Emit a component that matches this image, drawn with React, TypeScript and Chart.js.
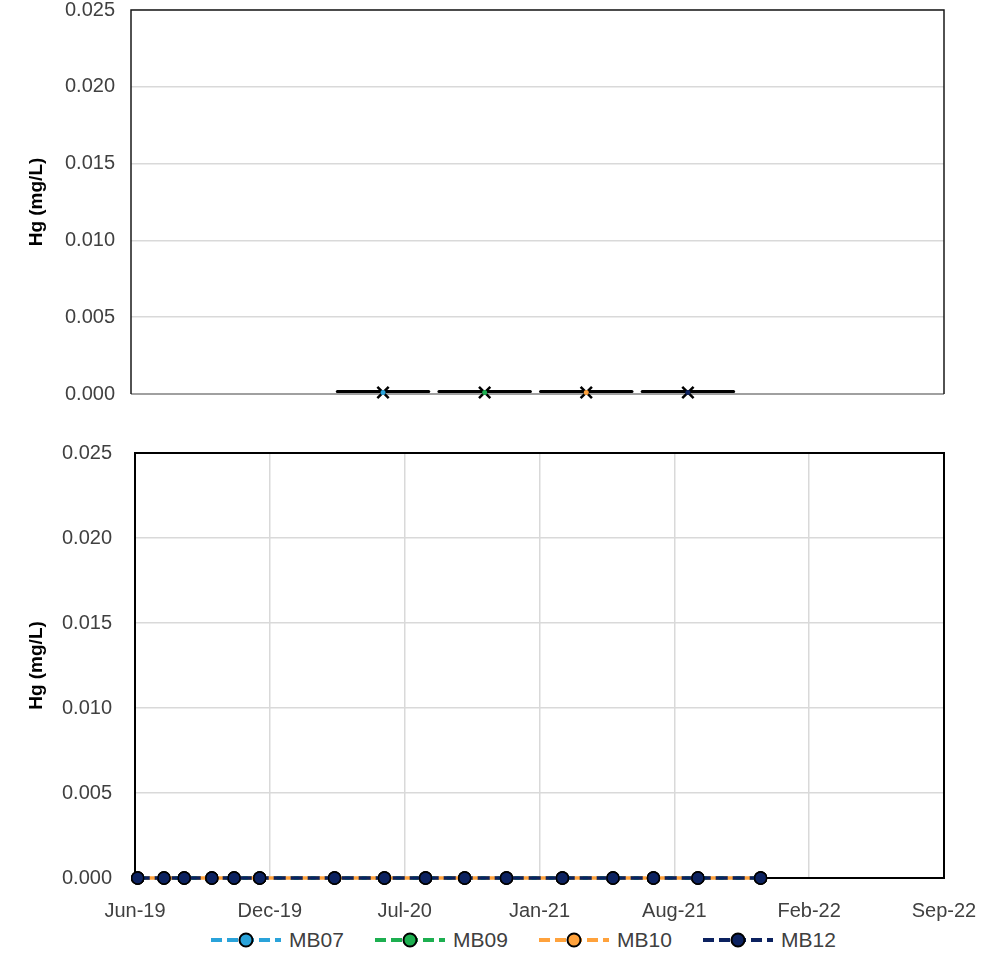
import React, { useEffect, useRef } from 'react';
import { Chart, registerables } from 'chart.js';

Chart.register(...registerables);

// ---------- data ----------
const seriesNames = ['MB07', 'MB09', 'MB10', 'MB12'];
const seriesColors = ['#2AA3DA', '#1DAF50', '#FFA23C', '#0C2260'];

// box plot summary per well (mg/L)
const boxMin = [0.0001, 0.0001, 0.0001, 0.0001];
const boxQ1 = [0.0001, 0.0001, 0.0001, 0.0001];
const boxMedian = [0.0001, 0.0001, 0.0001, 0.0001];
const boxQ3 = [0.0001, 0.0001, 0.0001, 0.0001];
const boxMax = [0.0001, 0.0001, 0.0001, 0.0001];
const boxMean = [0.0001, 0.0001, 0.0001, 0.0001];
const boxSlots = [2, 3, 4, 5]; // category slot of each box (0-based, of 8 slots)

// time series
const sampleDates = [
  '2019-06-05', '2019-07-14', '2019-08-13', '2019-09-23', '2019-10-26', '2019-12-03',
  '2020-03-23', '2020-06-05', '2020-08-05', '2020-10-02', '2020-12-03',
  '2021-02-24', '2021-05-10', '2021-07-09', '2021-09-13', '2021-12-15',
];
const mb07Values = [0, 0, 0, 0, 0, 0, 0, 0, 0, 0, 0, 0, 0, 0, 0, 0];
const mb09Values = [0, 0, 0, 0, 0, 0, 0, 0, 0, 0, 0, 0, 0, 0, 0, 0];
const mb10Values = [0, 0, 0, 0, 0, 0, 0, 0, 0, 0, 0, 0, 0, 0, 0, 0];
const mb12Values = [0, 0, 0, 0, 0, 0, 0, 0, 0, 0, 0, 0, 0, 0, 0, 0];
const seriesValues = [mb07Values, mb09Values, mb10Values, mb12Values];

const yTickValues = [0, 0.005, 0.01, 0.015, 0.02, 0.025];
const xAxisStart = '2019-06-01';
const xTickStepDays = 200;
const xTickLabels = ['Jun-19', 'Dec-19', 'Jul-20', 'Jan-21', 'Aug-21', 'Feb-22', 'Sep-22'];

// ---------- helpers ----------
const FONT = '"Liberation Sans", Arial, sans-serif';
const TXT = '#404040';
const GRID = '#d9d9d9';

const dayOf = (s: string) => {
  const [y, m, d] = s.split('-').map(Number);
  const [y0, m0, d0] = xAxisStart.split('-').map(Number);
  return (Date.UTC(y, m - 1, d) - Date.UTC(y0, m0 - 1, d0)) / 86400000;
};

const yAxisCommon = (width: number, pad: number) => ({
  min: 0,
  max: 0.025,
  afterBuildTicks: (scale: any) => {
    scale.ticks = yTickValues.map((v) => ({ value: v }));
  },
  afterFit: (scale: any) => {
    scale.width = width;
    scale.paddingTop = 0;
    scale.paddingBottom = 0;
  },
  ticks: {
    color: TXT,
    font: { family: FONT, size: 20 },
    padding: pad,
    callback: (v: any) => Number(v).toFixed(3),
  },
  grid: { color: GRID, lineWidth: 1.5, drawTicks: false },
  border: { display: false },
  title: {
    display: true,
    text: 'Hg (mg/L)',
    color: '#000',
    font: { family: FONT, size: 19, weight: 'bold' as const, lineHeight: 1.2 },
    padding: { top: 25, bottom: 0 },
  },
});

const topFramePlugin = {
  id: 'topFrame',
  beforeDatasetsDraw(chart: any) {
    const { ctx, chartArea: a } = chart;
    ctx.save();
    ctx.strokeStyle = '#a0a0a0';
    ctx.lineWidth = 2;
    ctx.beginPath();
    ctx.moveTo(a.left, a.bottom);
    ctx.lineTo(a.right, a.bottom);
    ctx.stroke();
    ctx.strokeStyle = '#1a1a1a';
    ctx.lineWidth = 1.5;
    ctx.beginPath();
    ctx.moveTo(a.left, a.bottom);
    ctx.lineTo(a.left, a.top);
    ctx.lineTo(a.right, a.top);
    ctx.lineTo(a.right, a.bottom);
    ctx.stroke();
    // boxes
    const xs = chart.scales.x;
    const ys = chart.scales.y;
    ctx.strokeStyle = '#000';
    ctx.lineWidth = 3;
    ctx.lineCap = 'round';
    boxSlots.forEach((slot, i) => {
      const x1 = xs.getPixelForValue(slot + 0.03);
      const x2 = xs.getPixelForValue(slot + 0.93);
      const xc = xs.getPixelForValue(slot + 0.48);
      const yq1 = ys.getPixelForValue(boxQ1[i]);
      const yq3 = ys.getPixelForValue(boxQ3[i]);
      const ymin = ys.getPixelForValue(boxMin[i]);
      const ymax = ys.getPixelForValue(boxMax[i]);
      const ymed = ys.getPixelForValue(boxMedian[i]);
      ctx.beginPath();
      ctx.moveTo(xc, yq3);
      ctx.lineTo(xc, ymax);
      ctx.moveTo(xc, yq1);
      ctx.lineTo(xc, ymin);
      ctx.stroke();
      ctx.strokeRect(x1, Math.min(yq1, yq3) - 1, x2 - x1, Math.abs(yq1 - yq3));
      ctx.beginPath();
      ctx.moveTo(x1, ymed - 1);
      ctx.lineTo(x2, ymed - 1);
      ctx.stroke();
    });
    ctx.restore();
  },
};

const bottomFramePlugin = {
  id: 'bottomFrame',
  beforeDatasetsDraw(chart: any) {
    const { ctx, chartArea: a } = chart;
    ctx.save();
    ctx.strokeStyle = '#000';
    ctx.lineWidth = 2;
    ctx.strokeRect(a.left, a.top, a.right - a.left, a.bottom - a.top);
    ctx.restore();
  },
};

function TopChart() {
  const ref = useRef<HTMLCanvasElement>(null);
  useEffect(() => {
    const pts = boxSlots.map((s, i) => ({ x: s + 0.48, y: boxMean[i] }));
    const chart = new Chart(ref.current!, {
      type: 'scatter',
      data: {
        datasets: [
          {
            data: pts,
            pointStyle: 'crossRot',
            pointRadius: 8,
            borderColor: '#000',
            borderWidth: 2.5,
            clip: false,
            order: 2,
          } as any,
          {
            data: pts,
            pointStyle: 'circle',
            pointRadius: 2.5,
            backgroundColor: seriesColors,
            borderWidth: 0,
            clip: false,
            order: 1,
          } as any,
        ],
      },
      options: {
        responsive: false,
        animation: false,
        layout: { autoPadding: false, padding: { top: 10, right: 61, left: 0, bottom: 0 } },
        plugins: { legend: { display: false }, tooltip: { enabled: false } },
        scales: {
          x: {
            type: 'linear',
            min: 0,
            max: 8,
            ticks: { display: false },
            grid: { display: false },
            border: { display: false },
            afterFit: (s: any) => {
              s.height = 26;
            },
          },
          y: yAxisCommon(131, 16) as any,
        },
      },
      plugins: [topFramePlugin],
    });
    return () => chart.destroy();
  }, []);
  return <canvas ref={ref} width={1005} height={420} style={{ display: 'block' }} />;
}

function BottomChart() {
  const ref = useRef<HTMLCanvasElement>(null);
  useEffect(() => {
    const orders = [4, 3, 2, 1];
    const dashOffsets = [0, 0, 9, 0];
    const chart = new Chart(ref.current!, {
      type: 'line',
      data: {
        datasets: seriesNames.map((name, i) => ({
          label: name,
          data: sampleDates.map((d, k) => ({ x: dayOf(d), y: seriesValues[i][k] })),
          borderColor: seriesColors[i],
          backgroundColor: seriesColors[i],
          borderWidth: 3.5,
          borderDash: [12, 5],
          borderDashOffset: dashOffsets[i],
          pointRadius: 6,
          pointBackgroundColor: seriesColors[i],
          pointBorderColor: '#000',
          pointBorderWidth: 1.5,
          tension: 0,
          clip: false,
          order: orders[i],
        })) as any,
      },
      options: {
        responsive: false,
        animation: false,
        layout: { autoPadding: false, padding: { top: 33, right: 61, left: 0, bottom: 0 } },
        plugins: { legend: { display: false }, tooltip: { enabled: false } },
        scales: {
          x: {
            type: 'linear',
            min: 0,
            max: xTickStepDays * (xTickLabels.length - 1),
            afterBuildTicks: (scale: any) => {
              scale.ticks = xTickLabels.map((_, i) => ({ value: i * xTickStepDays }));
            },
            afterFit: (s: any) => {
              s.height = 47;
            },
            ticks: {
              color: TXT,
              font: { family: FONT, size: 20 },
              padding: 21,
              maxRotation: 0,
              autoSkip: false,
              callback: (_v: any, idx: number) => xTickLabels[idx],
            },
            grid: { color: GRID, lineWidth: 1.5, drawTicks: false },
            border: { display: false },
          },
          y: yAxisCommon(135, 23) as any,
        },
      },
      plugins: [bottomFramePlugin],
    });
    return () => chart.destroy();
  }, []);
  return <canvas ref={ref} width={1005} height={505} style={{ display: 'block' }} />;
}

function LegendSymbol({ color }: { color: string }) {
  return (
    <svg width={70} height={20} style={{ display: 'block' }}>
      <line x1={0} y1={10} x2={70} y2={10} stroke={color} strokeWidth={4} strokeDasharray="11 5" />
      <circle cx={35} cy={10} r={6.5} fill={color} stroke="#000" strokeWidth={2} />
    </svg>
  );
}

export default function App() {
  return (
    <div style={{ position: 'absolute', left: 0, top: 0, width: 1005, height: 955, background: '#fff' }}>
      <div style={{ position: 'absolute', left: 0, top: 0 }}>
        <TopChart />
      </div>
      <div style={{ position: 'absolute', left: 0, top: 420 }}>
        <BottomChart />
      </div>
      {seriesNames.map((name, i) => (
        <div
          key={name}
          style={{
            position: 'absolute',
            left: 211 + i * 164,
            top: 929,
            height: 22,
            display: 'flex',
            alignItems: 'center',
            fontFamily: FONT,
            fontSize: 21,
            color: TXT,
            whiteSpace: 'nowrap',
          }}
        >
          <LegendSymbol color={seriesColors[i]} />
          <span style={{ marginLeft: 8 }}>{name}</span>
        </div>
      ))}
    </div>
  );
}
